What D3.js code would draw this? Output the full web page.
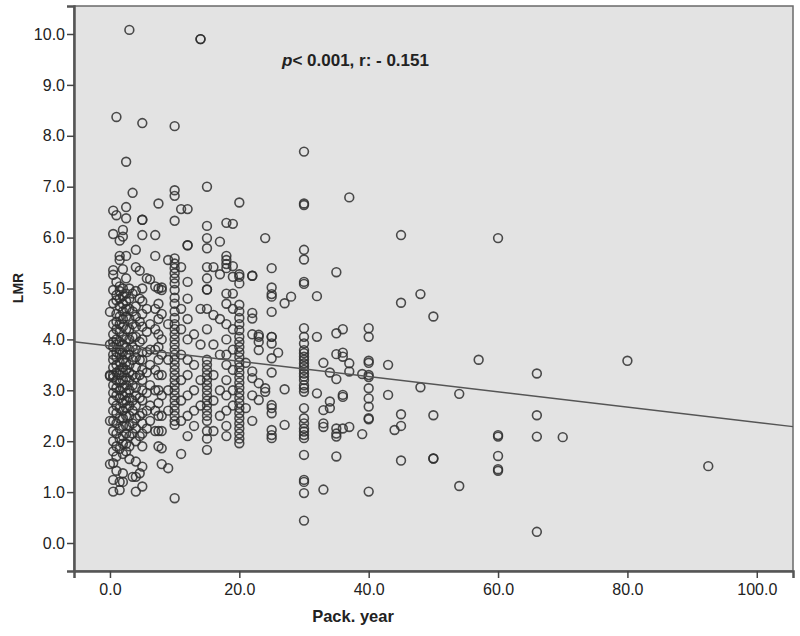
<!DOCTYPE html>
<html>
<head>
<meta charset="utf-8">
<script src="https://cdn.jsdelivr.net/npm/d3@7"></script>
<style>
  body { margin: 0; background: #fff; }
  svg { display: block; }
</style>
</head>
<body>
<svg id="chart"></svg>
<script>
// pack-year columns and the LMR values plotted in each
var packYear = [0, 0.5, 1, 1.5, 2, 2.5, 3, 3.5, 4, 4.6, 5, 5.7, 6.2, 7, 7.5, 8, 9,
    10, 11, 12, 13, 14, 15, 16, 17, 18, 19, 20, 21, 22, 23, 24, 25, 26, 27, 28,
    30, 32, 33, 34, 35, 36, 37, 39, 40, 43, 44, 45, 48, 50, 54, 57, 60, 66, 70, 80, 92.5];

var lmr = [
    [4.54, 3.9, 3.3, 3.28, 2.4, 1.55],
    [6.53, 6.07, 5.36, 5.27, 4.97, 4.71, 4.3, 4.1, 3.95, 3.85, 3.7, 3.6, 3.45, 3.3, 3.25, 3.1, 2.95, 2.8, 2.6, 2.4, 2.2, 2.0, 1.8, 1.57, 1.24, 1.01],
    [8.37, 6.44, 5.13, 4.87, 4.77, 4.5, 4.35, 4.2, 4.0, 3.9, 3.75, 3.65, 3.5, 3.35, 3.2, 3.05, 2.9, 2.7, 2.55, 2.35, 2.15, 1.9, 1.7, 1.42],
    [5.94, 5.64, 5.56, 5.04, 4.95, 4.8, 4.65, 4.45, 4.3, 4.15, 3.95, 3.8, 3.7, 3.55, 3.4, 3.3, 3.15, 3.0, 2.85, 2.65, 2.45, 2.25, 2.05, 1.85, 1.2, 1.04],
    [6.15, 6.02, 5.38, 5.0, 4.85, 4.7, 4.55, 4.4, 4.25, 4.05, 3.9, 3.75, 3.6, 3.45, 3.35, 3.2, 3.05, 2.9, 2.75, 2.6, 2.45, 2.3, 2.1, 1.95, 1.75, 1.37, 1.2],
    [7.49, 6.6, 6.38, 5.64, 5.2, 4.9, 4.75, 4.6, 4.45, 4.2, 4.0, 3.85, 3.7, 3.55, 3.4, 3.25, 3.1, 2.95, 2.8, 2.65, 2.5, 2.3, 2.15, 1.95, 1.8],
    [10.08, 5.0, 4.8, 4.6, 4.4, 4.2, 4.0, 3.8, 3.7, 3.5, 3.35, 3.2, 3.0, 2.85, 2.7, 2.5, 2.3, 2.1, 1.9, 1.65],
    [6.88, 4.9, 4.55, 4.3, 4.05, 3.85, 3.6, 3.3, 3.1, 2.8, 2.6, 2.35, 2.15, 1.3],
    [5.76, 5.42, 4.95, 4.65, 4.45, 4.25, 4.05, 3.8, 3.65, 3.45, 3.25, 3.05, 2.9, 2.7, 2.45, 2.25, 2.0, 1.6, 1.3, 1.01],
    [5.35, 4.8, 4.35, 3.95, 3.6, 3.3, 2.85, 2.5, 2.1, 1.37],
    [8.25, 6.35, 6.35, 6.05, 5.0, 4.75, 4.5, 4.25, 4.0, 3.75, 3.6, 3.4, 3.2, 3.0, 2.8, 2.55, 2.35, 2.15, 1.9, 1.5, 1.11],
    [5.2, 4.6, 4.15, 3.75, 3.35, 2.95, 2.6, 2.25],
    [5.18, 4.3, 3.8, 3.5, 3.1, 2.7, 2.4],
    [6.05, 5.64, 5.04, 4.6, 4.2, 3.8, 3.4, 3.0, 2.6, 2.2],
    [6.67, 5.0, 4.7, 4.4, 4.1, 3.85, 3.6, 3.3, 3.0, 2.75, 2.5, 2.2, 1.9],
    [5.02, 4.97, 4.5, 4.0, 3.7, 3.3, 2.9, 2.5, 2.2, 1.86, 1.55],
    [5.56, 4.3, 3.6, 3.0, 2.6, 1.47],
    [8.19, 6.93, 6.82, 6.33, 5.59, 5.49, 5.40, 5.30, 5.20, 5.10, 4.97, 4.82, 4.7, 4.55, 4.42, 4.3, 4.2, 4.1, 4.0, 3.9, 3.8, 3.7, 3.6, 3.5, 3.4, 3.3, 3.2, 3.1, 3.0, 2.9, 2.8, 2.7, 2.6, 2.5, 2.4, 2.32, 0.88],
    [6.56, 5.42, 4.6, 4.2, 3.7, 3.2, 2.8, 2.4, 1.75],
    [6.56, 5.85, 5.85, 5.13, 4.8, 4.4, 4.0, 3.6, 3.3, 2.9, 2.5, 2.1],
    [4.1, 3.5, 3.0, 2.6, 2.3],
    [9.9, 9.9, 4.6, 3.9, 3.2, 2.7],
    [7.0, 6.23, 5.99, 5.79, 5.42, 5.2, 4.98, 4.98, 4.6, 4.2, 3.6, 3.5, 3.4, 3.3, 3.2, 3.1, 3.0, 2.9, 2.8, 2.7, 2.6, 2.5, 2.4, 2.2, 2.05, 1.83],
    [5.42, 4.48, 3.9, 3.3, 2.8, 2.2],
    [5.92, 5.28, 4.4, 3.7, 3.0, 2.5],
    [6.29, 5.64, 5.56, 5.48, 5.40, 4.9, 4.7, 4.3, 4.0, 3.7, 3.5, 3.2, 2.9, 2.6, 2.3, 2.1],
    [6.27, 5.44, 5.23, 4.9, 4.6, 4.2, 3.8, 3.4, 3.0, 2.7],
    [6.69, 5.28, 5.23, 5.10, 4.68, 4.55, 4.42, 4.3, 4.18, 4.05, 3.95, 3.85, 3.75, 3.65, 3.55, 3.45, 3.35, 3.25, 3.15, 3.05, 2.95, 2.85, 2.75, 2.65, 2.55, 2.45, 2.35, 2.25, 2.15, 2.05, 1.96],
    [3.54, 2.65],
    [5.25, 5.25, 4.52, 4.41, 4.1, 3.37, 3.24, 2.9, 2.4],
    [4.09, 4.05, 3.95, 3.79, 3.14, 2.81],
    [5.99, 3.04, 2.97],
    [5.40, 5.02, 4.89, 4.84, 4.54, 4.05, 4.05, 3.92, 3.63, 3.35, 2.71, 2.65, 2.55, 2.22, 2.12, 2.06],
    [3.74],
    [4.71, 3.02, 2.32],
    [4.84],
    [7.69, 6.67, 6.64, 5.76, 5.57, 5.13, 5.09, 4.22, 4.05, 3.92, 3.79, 3.73, 3.66, 3.60, 3.53, 3.47, 3.40, 3.33, 3.27, 3.20, 3.10, 3.04, 2.97, 2.65, 2.45, 2.35, 2.25, 2.19, 2.12, 2.06, 1.73, 1.24, 1.20, 0.98, 0.44],
    [4.85, 4.05, 2.94],
    [3.54, 2.61, 2.35, 2.28, 1.05],
    [3.35, 2.78, 2.65],
    [5.32, 4.12, 3.71, 3.22, 2.25, 2.15, 2.09, 1.70],
    [4.2, 3.74, 3.66, 2.91, 2.87, 2.25],
    [6.79, 3.53, 3.37, 2.28],
    [3.32, 2.14],
    [4.22, 4.05, 3.58, 3.54, 3.30, 3.26, 3.04, 2.84, 2.68, 2.45, 2.43, 1.01],
    [3.50, 2.91],
    [2.22],
    [6.05, 4.72, 2.53, 2.30, 1.62],
    [4.89, 3.06],
    [4.45, 2.51, 1.66, 1.66],
    [2.93, 1.12],
    [3.60],
    [5.99, 2.12, 2.09, 1.71, 1.45, 1.42],
    [3.33, 2.51, 2.09, 0.22],
    [2.08],
    [3.58],
    [1.51]
];

// linear fit: intercept, slope
var fit = [3.87, -0.0150];

var xTicks = [0, 20, 40, 60, 80, 100];
var yTicks = [0, 1, 2, 3, 4, 5, 6, 7, 8, 9, 10];

var dimensions = {
    width: 800,
    height: 636,
    margin: { top: 6, right: 7, bottom: 65, left: 74 }
};

var points = [];
packYear.forEach(function (x, i) {
    lmr[i].forEach(function (y) { points.push({ x: x, y: y }); });
});

var svg = d3.select("#chart")
    .attr("width", dimensions.width)
    .attr("height", dimensions.height)
    .style("font-family", "'Liberation Sans', Arial, sans-serif");

var xScale = d3.scaleLinear()
    .domain([-5.56, 105.6])
    .range([dimensions.margin.left, dimensions.width - dimensions.margin.right]);

var yScale = d3.scaleLinear()
    .domain([-0.55, 10.55])
    .range([dimensions.height - dimensions.margin.bottom, dimensions.margin.top]);

// plot background
svg.append("rect")
    .attr("x", xScale.range()[0])
    .attr("y", yScale.range()[1])
    .attr("width", xScale.range()[1] - xScale.range()[0])
    .attr("height", yScale.range()[0] - yScale.range()[1])
    .attr("fill", "#e3e3e3")
    .attr("stroke", "#6a6a6a")
    .attr("stroke-width", 1.5);

// axes
var xAxis = svg.append("g")
    .attr("transform", `translate(0, ${yScale.range()[0]})`)
    .call(d3.axisBottom(xScale).tickValues(xTicks).tickFormat(d3.format(".1f")).tickSize(7).tickPadding(6));

var yAxis = svg.append("g")
    .attr("transform", `translate(${xScale.range()[0]}, 0)`)
    .call(d3.axisLeft(yScale).tickValues(yTicks).tickFormat(d3.format(".1f")).tickSize(7).tickPadding(2));

[xAxis, yAxis].forEach(function (g) {
    g.select(".domain").attr("stroke", "#555").attr("stroke-width", 2.5);
    g.selectAll(".tick line").attr("stroke", "#444").attr("stroke-width", 1.5);
    g.selectAll(".tick text").attr("fill", "#222").style("font-size", "16px");
});

// points
svg.append("g")
    .selectAll("circle")
    .data(points)
    .enter()
    .append("circle")
    .attr("cx", d => xScale(d.x))
    .attr("cy", d => yScale(d.y))
    .attr("r", 4.4)
    .attr("fill", "none")
    .attr("stroke", "#2e2e2e")
    .attr("stroke-opacity", 0.85)
    .attr("stroke-width", 1.6);

// fit line
var x0 = xScale.domain()[0], x1 = xScale.domain()[1];
svg.append("line")
    .attr("x1", xScale(x0))
    .attr("y1", yScale(fit[0] + fit[1] * x0))
    .attr("x2", xScale(x1))
    .attr("y2", yScale(fit[0] + fit[1] * x1))
    .attr("stroke", "#555")
    .attr("stroke-width", 1.4);

// annotation
var note = svg.append("text")
    .attr("x", 282)
    .attr("y", 66)
    .attr("fill", "#222")
    .style("font-size", "17px")
    .style("font-weight", "bold");
note.append("tspan").style("font-style", "italic").text("p");
note.append("tspan").text("< 0.001, r: - 0.151");

// axis titles
svg.append("text")
    .attr("x", 353)
    .attr("y", 622)
    .attr("text-anchor", "middle")
    .attr("fill", "#222")
    .style("font-size", "16.5px")
    .style("font-weight", "bold")
    .text("Pack. year");

svg.append("text")
    .attr("transform", "translate(23, 288) rotate(-90)")
    .attr("text-anchor", "middle")
    .attr("fill", "#222")
    .style("font-size", "14px")
    .style("font-weight", "bold")
    .text("LMR");
</script>
</body>
</html>
